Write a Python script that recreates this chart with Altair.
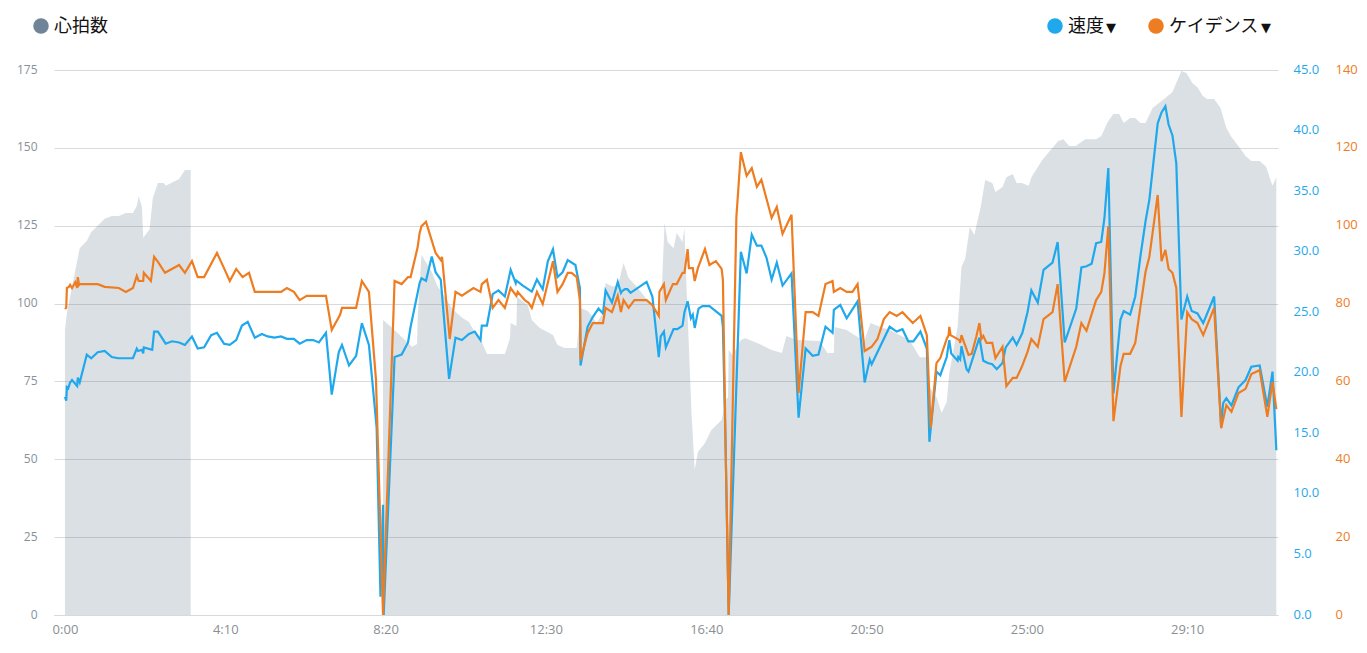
import pandas as pd
import altair as alt

# seconds / bpm, the heart rate has a hole between the two parts
hr_time_a = [0, 3, 11, 23, 34, 41, 62, 73, 84, 95, 106, 112, 115, 120, 122, 132, 137, 145, 154, 157, 178, 187, 196]
hr_value_a = [91.5, 97, 105.3, 117.8, 120.1, 123, 127.2, 128.1, 128.1, 129.1, 129.1, 131.3, 134.5, 131, 121.1, 123.9,
              133.9, 138.7, 138.7, 137.8, 140, 142.9, 142.9]
hr_time_b = [496, 507, 522, 541, 549, 550, 556, 572, 580, 605, 620, 630, 639, 650, 658, 686, 694, 695, 704, 705, 722,
             728, 740, 761, 768, 779, 798, 804, 815, 823, 829, 839, 843, 853, 862, 871, 879, 892, 907, 916, 926, 930,
             935, 940, 949, 954, 963, 966, 969, 977, 982, 987, 998, 1008, 1024, 1032, 1034, 1035, 1041, 1054, 1061,
             1083, 1102, 1118, 1125, 1141, 1177, 1189, 1199, 1200, 1219, 1236, 1247, 1256, 1275, 1286, 1317, 1333,
             1344, 1348, 1359, 1367, 1375, 1379, 1392, 1398, 1404, 1411, 1418, 1428, 1435, 1446, 1451, 1462, 1468,
             1478, 1484, 1492, 1503, 1507, 1524, 1540, 1549, 1557, 1566, 1576, 1591, 1608, 1616, 1626, 1635, 1644,
             1651, 1661, 1669, 1677, 1685, 1696, 1716, 1727, 1741, 1749, 1758, 1766, 1774, 1781, 1792, 1802, 1811,
             1819, 1831, 1841, 1850, 1863, 1873, 1883, 1889]
hr_value_b = [94.7, 92.8, 89.9, 86.1, 87, 95.7, 115.6, 110.1, 106, 98, 95.4, 94.1, 90.9, 87.7, 83.8, 83.8, 88.9, 93.8,
              92.8, 102.1, 99.5, 94.7, 92.2, 89.9, 86.7, 85.7, 85.7, 98.6, 97.6, 95.7, 93.8, 97, 106.6, 105.6, 105.6,
              113, 108.2, 105.3, 101.5, 98.9, 94.7, 101.1, 125.9, 119.8, 117.8, 122.7, 119.8, 124.3, 106.6, 64.9, 46.6,
              52.3, 55.2, 59.4, 62.6, 69.7, 69.7, 85.1, 83.5, 88.3, 88.9, 87, 85.1, 84.1, 89.6, 88.3, 88, 84.1, 84.1,
              92.5, 91.5, 89.3, 88.3, 93.8, 92.2, 91.5, 88.3, 82.8, 82.8, 73.2, 70, 64.9, 68.4, 77.7, 92.5, 111.7,
              114.6, 124.6, 122, 131, 139.7, 138.7, 135.8, 137.4, 140.6, 141.6, 138.7, 138.7, 137.8, 140.6, 146.1, 150,
              152.2, 152.8, 150.6, 150.6, 152.8, 152.8, 153.8, 158.3, 160.9, 160.9, 158, 159.6, 159.6, 158, 158, 162.8,
              166, 167.9, 174.7, 174, 170.8, 169.5, 166.7, 165.7, 165.7, 162.8, 156.4, 153.5, 150.3, 147.4, 145.8,
              145.8, 143.9, 137.8, 140.6]

speed_time = [0, 2, 3, 5, 8, 11, 19, 20, 23, 34, 41, 51, 62, 73, 83, 106, 112, 114, 120, 122, 123, 136, 139, 145, 157,
              167, 178, 187, 198, 207, 217, 228, 237, 248, 257, 267, 276, 285, 296, 307, 316, 327, 337, 346, 357, 366,
              377, 387, 396, 407, 416, 427, 432, 443, 454, 463, 474, 486, 492, 496, 497, 514, 525, 535, 539, 550, 553,
              556, 563, 572, 578, 586, 599, 609, 619, 630, 639, 648, 650, 658, 667, 676, 686, 695, 703, 704, 714, 728,
              736, 745, 753, 761, 768, 776, 784, 796, 803, 804, 815, 823, 832, 839, 843, 853, 862, 867, 868, 873, 877,
              882, 907, 916, 926, 929, 934, 937, 949, 955, 963, 966, 971, 976, 979, 982, 988, 994, 1005, 1024, 1026,
              1030, 1035, 1054, 1063, 1071, 1079, 1086, 1094, 1102, 1110, 1119, 1133, 1144, 1155, 1166, 1175, 1186,
              1197, 1199, 1209, 1219, 1236, 1247, 1255, 1258, 1286, 1297, 1306, 1315, 1323, 1334, 1344, 1348, 1359,
              1365, 1375, 1379, 1382, 1392, 1393, 1396, 1398, 1406, 1409, 1426, 1432, 1439, 1446, 1453, 1462, 1467,
              1478, 1484, 1493, 1501, 1507, 1517, 1526, 1540, 1548, 1559, 1577, 1585, 1593, 1601, 1608, 1616, 1621,
              1627, 1635, 1646, 1651, 1661, 1669, 1677, 1685, 1691, 1704, 1710, 1716, 1721, 1727, 1733, 1741, 1750,
              1757, 1766, 1775, 1792, 1803, 1806, 1811, 1819, 1830, 1841, 1850, 1863, 1875, 1883, 1889]
speed_value = [18, 17.7, 18.8, 18.7, 19.2, 19.4, 18.9, 19.6, 19.2, 21.5, 21.2, 21.7, 21.8, 21.3, 21.2, 21.2, 22, 21.8,
               21.9, 21.6, 22.1, 21.9, 23.4, 23.4, 22.4, 22.6, 22.5, 22.3, 23, 22, 22.1, 23.1, 23.3, 22.4, 22.3, 22.7,
               23.9, 24.2, 22.9, 23.2, 23, 22.9, 23, 22.8, 22.8, 22.4, 22.7, 22.7, 22.5, 23.3, 18.2, 21.7, 22.3, 20.6,
               21.4, 24.1, 22.3, 15.5, 1.5, 9.1, 0, 21.3, 21.5, 22.5, 23.8, 26.6, 27.4, 27.8, 27.6, 29.6, 28.3, 27.7,
               19.5, 22.9, 22.7, 23.2, 23.4, 22.7, 23.9, 23.9, 26.5, 26.8, 26.3, 28.5, 27.4, 27.6, 27.2, 26.7, 27.7,
               26.9, 29.2, 30.2, 27.9, 28.3, 29.3, 28.9, 27, 20.6, 23.8, 24.6, 25.3, 24.9, 26.8, 25.8, 27.5, 26.6, 26.7,
               26.9, 26.9, 26.6, 27.5, 26.3, 21.3, 23, 23.4, 22.1, 23.6, 23.6, 23.9, 25, 25.9, 24.5, 24.8, 23.7, 25.3,
               25.5, 25.5, 24.7, 23.8, 14.4, 0, 30, 28.2, 31.4, 30.5, 30.5, 29.5, 27.7, 29.1, 27.2, 28.2, 16.3, 22, 21.4,
               21.5, 23.8, 23.3, 25.2, 25.6, 24.5, 25.9, 19.2, 21.1, 20.7, 23.8, 23.4, 23.6, 22.6, 22.6, 23.4, 22, 14.3,
               20.1, 19.8, 21.3, 22.7, 21.6, 21, 21.3, 21.1, 22.2, 20.3, 20.1, 22.9, 21, 20.8, 20.7, 20.3, 20.8, 22.1,
               22.9, 22.3, 23.3, 25, 26.8, 25.8, 28.5, 29.1, 30.8, 22.5, 25.3, 28.7, 28.8, 29, 30.7, 30.8, 32.8, 36.9,
               18.3, 24.4, 25.1, 24.8, 26.3, 29.6, 32.5, 34.3, 40.6, 41.5, 42, 40.5, 39.6, 37.3, 24.4, 26.3, 25.1, 24.9,
               24.1, 26.3, 15.5, 17.5, 17.9, 17.3, 18.8, 19.4, 20.5, 20.6, 17.2, 20.1, 13.6]

cadence_time = [0, 2, 3, 6, 8, 11, 16, 19, 20, 22, 23, 51, 62, 84, 95, 106, 112, 115, 122, 123, 134, 139, 145, 156, 178,
                187, 198, 207, 217, 237, 248, 257, 267, 277, 287, 296, 337, 346, 357, 366, 377, 407, 416, 429, 432, 454,
                463, 474, 485, 496, 514, 525, 535, 539, 550, 553, 556, 563, 578, 586, 588, 600, 609, 619, 637, 648, 650,
                658, 667, 676, 686, 695, 704, 706, 717, 723, 728, 736, 745, 761, 768, 776, 784, 790, 798, 803, 804, 815,
                823, 839, 843, 853, 862, 867, 871, 879, 888, 907, 916, 926, 927, 934, 937, 948, 954, 963, 966, 971, 973,
                979, 982, 987, 998, 1005, 1015, 1024, 1026, 1030, 1035, 1047, 1054, 1063, 1071, 1079, 1086, 1102, 1110,
                1119, 1133, 1144, 1155, 1166, 1175, 1186, 1197, 1199, 1209, 1219, 1228, 1236, 1247, 1258, 1267, 1277,
                1286, 1297, 1306, 1322, 1334, 1344, 1350, 1359, 1365, 1375, 1378, 1379, 1381, 1395, 1396, 1398, 1409,
                1414, 1421, 1426, 1429, 1432, 1437, 1446, 1451, 1462, 1468, 1478, 1484, 1492, 1501, 1507, 1517, 1526,
                1540, 1548, 1559, 1577, 1585, 1593, 1602, 1608, 1616, 1621, 1627, 1635, 1646, 1651, 1661, 1669, 1677,
                1685, 1691, 1704, 1710, 1716, 1721, 1727, 1733, 1741, 1750, 1757, 1766, 1775, 1792, 1803, 1811, 1819,
                1830, 1841, 1850, 1863, 1875, 1883, 1889]
cadence_value = [78.6, 78.9, 84, 84.3, 84.8, 84, 85.5, 84, 86.8, 84.8, 85, 85, 84.3, 84, 83, 84, 87.1, 85.8, 85.8, 87.9,
                 85.8, 92, 90.7, 87.9, 89.9, 87.9, 90.9, 86.8, 86.8, 93, 89.1, 85.8, 88.9, 86.8, 87.9, 83, 83, 84, 83,
                 80.9, 82, 82, 73.2, 77.1, 78.9, 78.9, 85.8, 83, 60.4, 0, 85.8, 85, 86.8, 86.8, 94.5, 98.1, 99.9, 101,
                 93, 91.2, 92, 70.9, 83, 82, 84, 83, 85, 86.1, 78.9, 80.9, 78.9, 84, 82, 83, 80.9, 80.2, 78.9, 83, 79.9,
                 90.9, 83, 85, 87.9, 87.9, 86.8, 80.9, 65.5, 72.4, 75, 75, 78.9, 77.8, 82, 77.8, 80.9, 78.9, 80.9, 80.9,
                 79.6, 76.8, 83, 85, 80.9, 85, 85, 87.9, 87.9, 94, 89.1, 89.1, 85.8, 89.1, 94, 89.9, 90.9, 88.9, 86.1,
                 45, 0, 102.2, 118.9, 112.8, 114.8, 110, 111.8, 102, 104.8, 97.9, 102.8, 57, 77.8, 77.8, 76.8, 85, 85.8,
                 83, 84, 83, 83, 85, 67.8, 68.9, 70.9, 76, 77.8, 76.8, 77.8, 75, 76.8, 71.9, 48, 64.7, 66, 70.9, 71.9, 74,
                 71.9, 70.6, 69.9, 71.9, 66.8, 67.1, 71.4, 75, 70.9, 71.7, 69.9, 69.9, 66, 68.9, 58.8, 60.9, 60.9, 63.7,
                 67.6, 70.9, 68.9, 76, 77.8, 85, 59.9, 68.9, 75, 73, 77.8, 80.9, 83, 87.9, 99.9, 49.8, 64, 67.1, 67.1,
                 69.9, 79.1, 88.1, 92, 107.9, 90.9, 93.8, 88.9, 87.9, 84, 50.9, 77.8, 76, 75, 71.9, 78.9, 48, 53.9, 52.2,
                 57, 58.1, 61.9, 62.9, 50.9, 59.9, 52.9]

x_ticks = [0, 250, 500, 750, 1000, 1250, 1500, 1750]
hr_ticks = [0, 25, 50, 75, 100, 125, 150, 175]
speed_ticks = [0, 5, 10, 15, 20, 25, 30, 35, 40, 45]
cadence_ticks = [0, 20, 40, 60, 80, 100, 120, 140]

GREY = "#6f8496"
BLUE = "#1fa8ec"
ORANGE = "#ee7d22"
AXIS_FONT = "Open Sans"
LEGEND_FONT = "Noto Sans CJK JP"

hr_df = pd.concat([
    pd.DataFrame({"t": hr_time_a, "v": hr_value_a, "part": "a"}),
    pd.DataFrame({"t": hr_time_b, "v": hr_value_b, "part": "b"}),
])
speed_df = pd.DataFrame({"t": speed_time, "v": speed_value})
cadence_df = pd.DataFrame({"t": cadence_time, "v": cadence_value})

x_enc = alt.X("t:Q", scale=alt.Scale(domain=[-17.1, 1891.6], nice=False, zero=False),
              axis=alt.Axis(values=x_ticks, title=None, grid=False, ticks=False, domain=True, domainColor="#d5dae0",
                            labelColor="#8a8f93", labelFont=AXIS_FONT, labelFontSize=13, labelPadding=8,
                            labelExpr="floor(datum.value / 60) + ':' + (datum.value % 60 < 10 ? '0' : '') + datum.value % 60"))

area = alt.Chart(hr_df).mark_area(color=GREY, opacity=0.25).encode(
    x=x_enc,
    y=alt.Y("v:Q", stack=None, scale=alt.Scale(domain=[0, 175], nice=False),
            axis=alt.Axis(values=hr_ticks, title=None, orient="left", grid=True, gridColor="#d8d9da", ticks=False,
                          domain=False, labelColor="#86919b", labelFont=AXIS_FONT, labelFontSize=12, labelPadding=17,
                          labelOffset=-1)),
    detail="part:N",
)

speed = alt.Chart(speed_df).mark_line(color=BLUE, strokeWidth=2.2).encode(
    x=x_enc,
    y=alt.Y("v:Q", scale=alt.Scale(domain=[0, 45], nice=False),
            axis=alt.Axis(values=speed_ticks, title=None, orient="right", grid=False, ticks=False, domain=False,
                          format=".1f", labelColor=BLUE, labelFont=AXIS_FONT, labelFontSize=13, labelPadding=15,
                          labelOffset=-1)),
)

cadence = alt.Chart(cadence_df).mark_line(color=ORANGE, strokeWidth=2.2).encode(
    x=x_enc,
    y=alt.Y("v:Q", scale=alt.Scale(domain=[0, 140], nice=False),
            axis=alt.Axis(values=cadence_ticks, title=None, orient="right", grid=False, ticks=False, domain=False,
                          offset=42, labelColor=ORANGE, labelFont=AXIS_FONT, labelFontSize=13, labelPadding=15,
                          labelOffset=-1)),
)

# legend row above the plot
legend_names = ["心拍数", "速度", "ケイデンス"]
legend_colors = [GREY, BLUE, ORANGE]
legend_dots = [-13, 1001, 1102]
legend_arrows = [None, 1052, 1207]
legend_layers = []
for name, colour, dot_x, arrow_x in zip(legend_names, legend_colors, legend_dots, legend_arrows):
    one = pd.DataFrame({"name": [name]})
    legend_layers.append(alt.Chart(one).mark_circle(color=colour, opacity=1, size=240).encode(
        x=alt.value(dot_x), y=alt.value(-44)))
    legend_layers.append(alt.Chart(one).mark_text(align="left", baseline="middle", font=LEGEND_FONT, fontSize=18,
                                                  color="#111111").encode(
        x=alt.value(dot_x + 13), y=alt.value(-43), text="name:N"))
    if arrow_x is not None:
        legend_layers.append(alt.Chart(pd.DataFrame({"name": ["▼"]})).mark_text(
            align="left", baseline="middle", font="DejaVu Sans", fontSize=13, color="#111111").encode(
            x=alt.value(arrow_x), y=alt.value(-42), text="name:N"))

chart = alt.layer(area, speed, cadence, *legend_layers).resolve_scale(y="independent").properties(
    width=1224, height=545,
    autosize=alt.AutoSizeParams(type="none"),
    padding={"left": 46, "top": 62, "right": 81, "bottom": 28},
).configure_view(stroke=None)

chart.save("out.html", embed_options={"renderer": "svg", "actions": False})
